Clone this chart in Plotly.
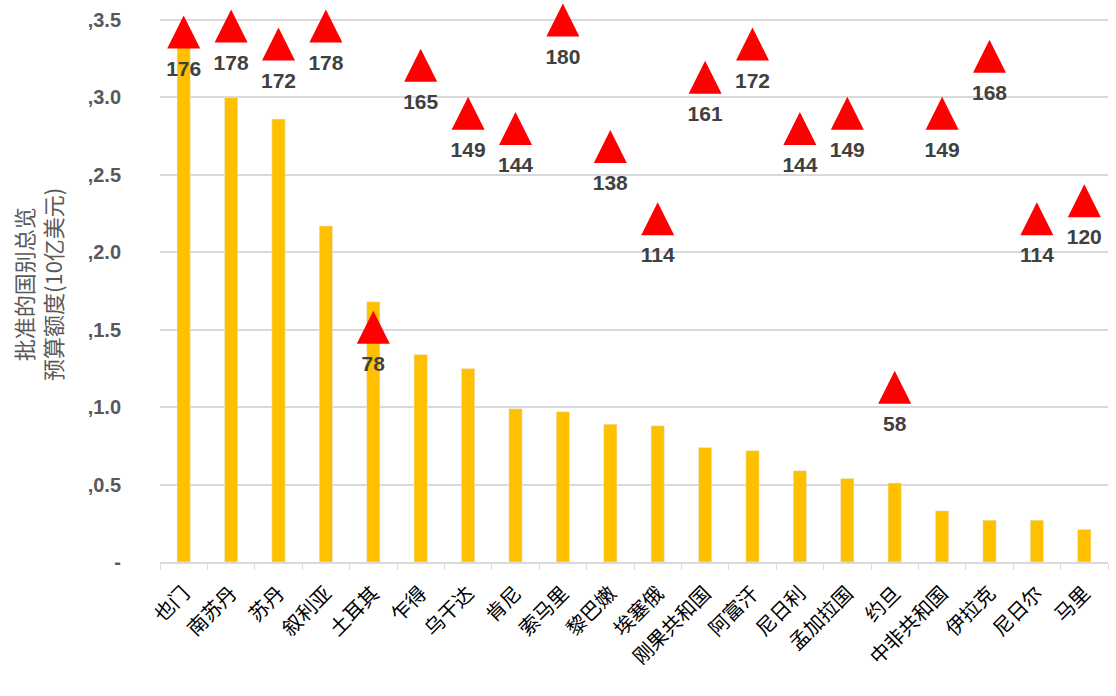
import plotly.graph_objects as go

countries = ["也门", "南苏丹", "苏丹", "叙利亚", "土耳其", "乍得", "乌干达", "肯尼", "索马里", "黎巴嫩",
             "埃塞俄", "刚果共和国", "阿富汗", "尼日利", "孟加拉国", "约旦", "中非共和国", "伊拉克", "尼日尔", "马里"]
budget = [3.42, 3.00, 2.86, 2.17, 1.68, 1.34, 1.25, 0.99, 0.97, 0.89,
          0.88, 0.74, 0.72, 0.59, 0.54, 0.51, 0.33, 0.27, 0.27, 0.21]
rank = [176, 178, 172, 178, 78, 165, 149, 144, 180, 138,
        114, 161, 172, 144, 149, 58, 149, 168, 114, 120]

y_tickvals = [0, 0.5, 1.0, 1.5, 2.0, 2.5, 3.0, 3.5]
y_ticktext = ["-", ",0.5", ",1.0", ",1.5", ",2.0", ",2.5", ",3.0", ",3.5"]

# plot area runs from the top of the page (y=0) down to y=562 px
PLOT_H = 562.0
Y_MAX = 3.5 * PLOT_H / 542.0          # 3.5 sits 20 px below the top
RANK_PER_PX = 180.0 / 542.0
TIP_LIFT = 16.5 * RANK_PER_PX         # triangle tip above its centre
LABEL_DROP = 38.5 * RANK_PER_PX       # label centre below triangle centre
R_SPAN = PLOT_H * RANK_PER_PX

fig = go.Figure()
fig.add_trace(go.Bar(x=countries, y=budget, marker_color="#FFC000", width=0.28,
                     showlegend=False))
fig.add_trace(go.Scatter(x=countries, y=rank, yaxis="y2", mode="markers",
                         marker=dict(symbol="arrow-up", size=33, color="#FF0000", line_width=0),
                         cliponaxis=False, showlegend=False, hoverinfo="skip"))
fig.add_trace(go.Scatter(x=countries, y=rank, yaxis="y3", mode="text",
                         text=[str(v) for v in rank], textposition="middle center",
                         textfont=dict(family="Liberation Sans, Arial", size=21, color="#404040", weight="bold"),
                         cliponaxis=False, showlegend=False))

fig.update_layout(
    width=1116, height=696,
    margin=dict(l=160, r=8, t=0, b=134),
    plot_bgcolor="white", paper_bgcolor="white",
    xaxis=dict(range=[-0.5, 19.5], tickangle=-45, showline=True, linecolor="#D9D9D9", linewidth=1.5,
               ticks="outside", tickson="boundaries", ticklen=6, tickcolor="#D9D9D9",
               ticklabelstandoff=10,
               tickfont=dict(family="Noto Sans CJK SC", size=20, color="#000000")),
    yaxis=dict(range=[0, Y_MAX], tickvals=y_tickvals, ticktext=y_ticktext,
               showgrid=True, gridcolor="#D9D9D9", gridwidth=1.5, zeroline=False,
               ticklabelstandoff=38,
               tickfont=dict(family="Liberation Sans, Arial", size=20, color="#595959", weight="bold")),
    yaxis2=dict(overlaying="y", range=[-TIP_LIFT, -TIP_LIFT + R_SPAN], visible=False),
    yaxis3=dict(overlaying="y", range=[LABEL_DROP, LABEL_DROP + R_SPAN], visible=False),
    annotations=[dict(text="批准的国别总览<br>预算额度(10亿美元)", textangle=-90,
                      xref="paper", yref="paper", x=(37 - 160) / 948.0, y=(562 - 285) / 562.0,
                      xanchor="center", yanchor="middle", showarrow=False,
                      font=dict(family="Noto Sans CJK SC", size=22, color="#595959"))],
)

fig.write_html("out.html")
